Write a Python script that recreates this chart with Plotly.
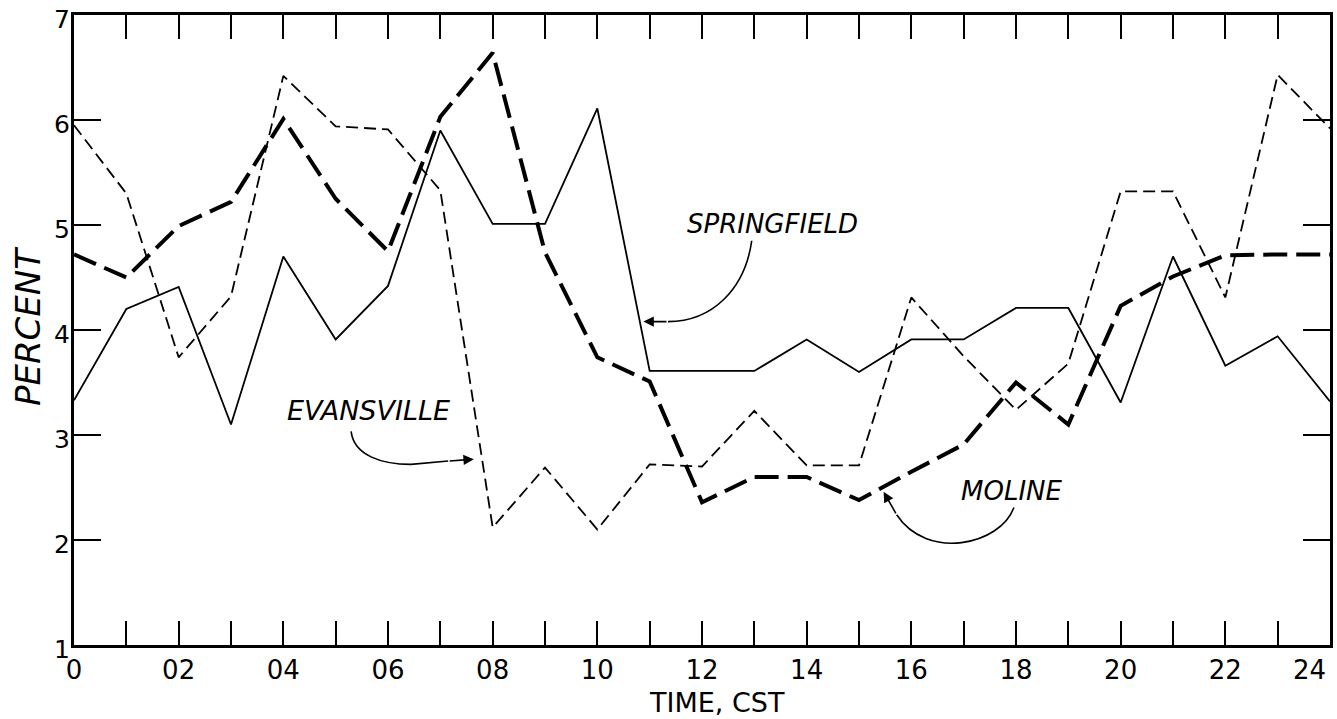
import plotly.graph_objects as go

hours = list(range(25))
springfield = [3.33, 4.20, 4.41, 3.10, 4.70, 3.91, 4.42, 5.90, 5.01, 5.01, 6.11, 3.61, 3.61,
               3.61, 3.91, 3.60, 3.91, 3.91, 4.21, 4.21, 3.31, 4.70, 3.66, 3.94, 3.32]
evansville = [5.95, 5.30, 3.74, 4.32, 6.42, 5.94, 5.91, 5.33, 2.12, 2.69, 2.10, 2.72, 2.70,
              3.23, 2.71, 2.71, 4.31, 3.75, 3.24, 3.68, 5.32, 5.32, 4.31, 6.43, 5.92]
moline = [4.72, 4.50, 4.99, 5.22, 6.01, 5.25, 4.75, 6.03, 6.64, 4.74, 3.74, 3.51, 2.36,
          2.60, 2.60, 2.38, 2.65, 2.91, 3.50, 3.10, 4.23, 4.51, 4.71, 4.72, 4.72]
x_tick_vals = list(range(25))
x_tick_text = ["0", "", "02", "", "04", "", "06", "", "08", "", "10", "", "12", "",
               "14", "", "16", "", "18", "", "20", "", "22", "", ""]
last_tick_label = "24"   # drawn separately so it can sit inside the right edge
y_tick_vals = [1, 2, 3, 4, 5, 6, 7]

FONT = "DejaVu Sans"
fig = go.Figure()
fig.add_trace(go.Scatter(x=hours, y=springfield, mode="lines", name="SPRINGFIELD",
                         line=dict(color="black", width=1.8)))
fig.add_trace(go.Scatter(x=hours, y=evansville, mode="lines", name="EVANSVILLE",
                         line=dict(color="black", width=1.8, dash="12px,6px")))
fig.add_trace(go.Scatter(x=hours, y=moline, mode="lines", name="MOLINE",
                         line=dict(color="black", width=4, dash="24px,9px")))

lab = dict(family=FONT, size=26, color="black", style="italic")
annotations = [
    dict(x=13.34, y=5.01, text="SPRINGFIELD", showarrow=False, font=lab),
    dict(x=5.62, y=3.23, text="EVANSVILLE", showarrow=False,
         font=dict(family=FONT, size=27, color="black", style="italic")),
    dict(x=17.92, y=2.47, text="MOLINE", showarrow=False, font=lab),
    dict(x=-0.0365, y=0.505, xref="paper", yref="paper", xanchor="center", yanchor="middle",
         text="PERCENT", showarrow=False, textangle=-90,
         font=dict(family=FONT, size=34, color="black", style="italic")),
    dict(x=0.512, y=-0.092, xref="paper", yref="paper", xanchor="center", yanchor="middle",
         text="TIME, CST", showarrow=False,
         font=dict(family=FONT, size=27, color="black")),
    dict(x=hours[-1], y=-0.039, xref="x", yref="paper", xanchor="right", yanchor="middle",
         xshift=-2, text=last_tick_label, showarrow=False,
         font=dict(family=FONT, size=26, color="black")),
    # arrowheads
    dict(x=10.88, y=4.08, ax=11.35, ay=4.08, axref="x", ayref="y", text="", showarrow=True,
         arrowhead=2, arrowsize=1.3, arrowwidth=1.6, arrowcolor="black"),
    dict(x=7.64, y=2.77, ax=7.15, ay=2.752, axref="x", ayref="y", text="", showarrow=True,
         arrowhead=2, arrowsize=1.3, arrowwidth=1.6, arrowcolor="black"),
    dict(x=15.47, y=2.46, ax=15.72, ay=2.24, axref="x", ayref="y", text="", showarrow=True,
         arrowhead=2, arrowsize=1.3, arrowwidth=1.6, arrowcolor="black"),
]
shapes = [
    dict(type="path", xref="x", yref="y",
         path="M 12.95,4.85 C 12.82,4.39 12.2,4.08 11.35,4.08",
         line=dict(color="black", width=1.6)),
    dict(type="path", xref="x", yref="y",
         path="M 5.295,3.034 C 5.35,2.80 5.9,2.72 6.44,2.72 L 7.15,2.752",
         line=dict(color="black", width=1.6)),
    dict(type="path", xref="x", yref="y",
         path="M 17.96,2.31 C 17.7,1.95 16.3,1.80 15.72,2.24",
         line=dict(color="black", width=1.6)),
]

fig.update_layout(
    width=1337, height=719,
    margin=dict(l=74, r=7, t=15, b=74, autoexpand=False),
    paper_bgcolor="white", plot_bgcolor="white",
    showlegend=False,
    font=dict(family=FONT, color="black"),
    annotations=annotations, shapes=shapes,
)
fig.update_xaxes(range=[0, 24], tickvals=x_tick_vals, ticktext=x_tick_text,
                 ticks="inside", ticklen=24, tickwidth=2, tickcolor="black",
                 showline=True, linewidth=3, linecolor="black", mirror="ticks",
                 showgrid=False, zeroline=False, automargin=False,
                 tickfont=dict(family=FONT, size=26, color="black"))
fig.update_yaxes(range=[1, 7], tickvals=y_tick_vals,
                 ticks="inside", ticklen=27, tickwidth=2, tickcolor="black",
                 showline=True, linewidth=3, linecolor="black", mirror="ticks",
                 showgrid=False, zeroline=False, automargin=False,
                 ticklabelstandoff=-4, ticklabelshift=4,
                 ticklabeloverflow="allow",
                 tickfont=dict(family=FONT, size=25, color="black"))

fig.write_html("out.html", config={"displayModeBar": False},
               post_script="document.body.style.margin='0px';document.body.style.overflow='hidden';")
